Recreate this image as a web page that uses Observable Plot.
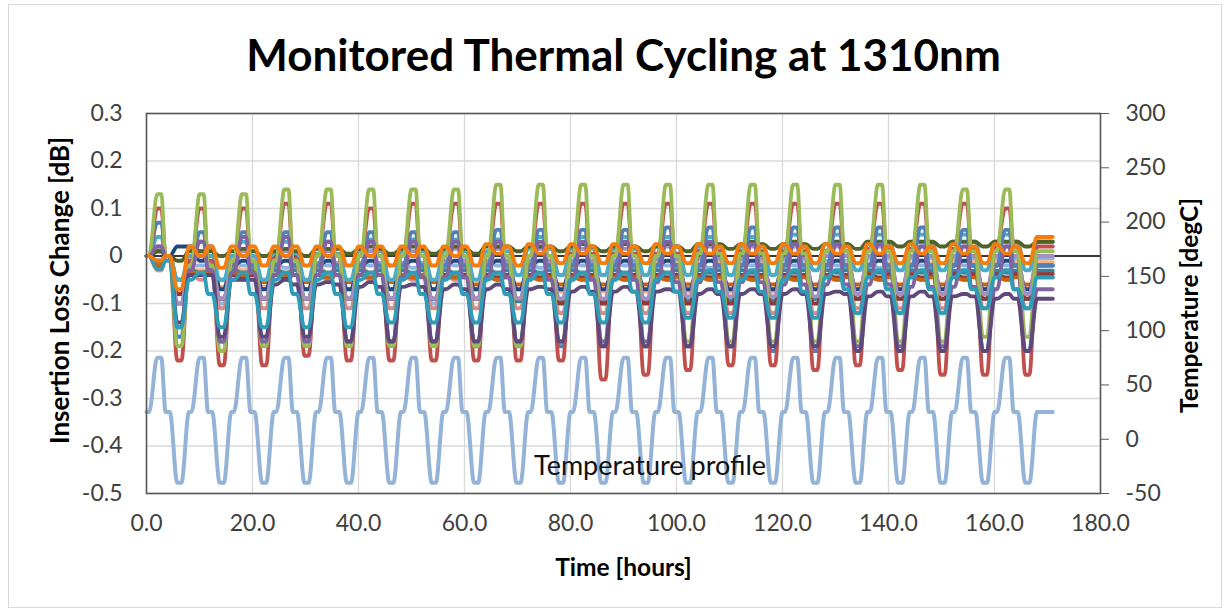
<!DOCTYPE html>
<html><head><meta charset="utf-8">
<script src="https://cdn.jsdelivr.net/npm/d3@7"></script>
<script src="https://cdn.jsdelivr.net/npm/@observablehq/plot@0.6"></script>
<style>
html,body{margin:0;padding:0;background:#fff;}
#wrap{position:relative;width:1231px;height:612px;overflow:hidden;}
#border{position:absolute;left:8px;top:4px;width:1214px;height:604px;border:1.5px solid #D9D9D9;box-sizing:border-box;pointer-events:none;}
</style></head>
<body><div id="wrap"><div id="chart"></div><div id="border"></div></div>
<script>
// ---- axes / ticks ----
const xTicks = [0,20,40,60,80,100,120,140,160,180];
const yTicks = [-0.5,-0.4,-0.3,-0.2,-0.1,0,0.1,0.2,0.3];
const yTickLabels = ["-0.5","-0.4","-0.3","-0.2","-0.1","0","0.1","0.2","0.3"];
const tempTicks = [-50,0,50,100,150,200,250,300];
const tempDomain = [-50,300];

// ---- temperature profile (hours, degC) ----
const cycleStarts = [0,8,16,24,32,40,48,56,64,72,80,88,96,104,112,120,128,136,144,152,160];
const phaseOffsets = [0,0.5,2.0,2.8,3.6,4.4,5.8,6.6];
const phaseTemps = [25,25,75,75,25,25,-40,-40];
const finalTimes = [168,171];
const finalTemps = [25,25];

// ---- insertion loss change series (dB): ambient level a1 (start of each cycle + end), hot hold, ambient mid a2, cold hold ----
const lightBlue = {color:"#8EB4E3",
 a1:[0,-0.02,-0.015,-0.015,-0.015,-0.015,-0.015,-0.01,-0.01,-0.01,-0.01,-0.01,-0.01,-0.01,-0.01,-0.01,-0.01,-0.005,-0.005,-0.005,-0.005,-0.005],
 hot:[-0.01,-0.02,-0.02,-0.025,-0.02,-0.02,-0.025,-0.02,-0.02,-0.025,-0.02,-0.02,-0.02,-0.025,-0.02,-0.02,-0.02,-0.025,-0.02,-0.02,-0.02],
 cold:[-0.1,-0.1,-0.09,-0.09,-0.09,-0.09,-0.1,-0.09,-0.09,-0.09,-0.1,-0.09,-0.09,-0.09,-0.09,-0.09,-0.09,-0.08,-0.08,-0.08,-0.08]};
const lightOrange = {color:"#F9B07A",
 a1:[0,-0.03,-0.02,-0.02,-0.02,-0.02,-0.02,-0.02,-0.02,-0.02,-0.02,-0.02,-0.015,-0.015,-0.015,-0.015,-0.015,-0.015,-0.015,-0.013,-0.013,-0.013],
 hot:[-0.03,-0.03,-0.03,-0.035,-0.035,-0.035,-0.04,-0.04,-0.04,-0.04,-0.04,-0.04,-0.04,-0.04,-0.04,-0.04,-0.035,-0.035,-0.035,-0.035,-0.035],
 cold:[-0.05,-0.065,-0.065,-0.07,-0.07,-0.07,-0.07,-0.07,-0.07,-0.075,-0.075,-0.075,-0.075,-0.075,-0.075,-0.07,-0.07,-0.07,-0.07,-0.07,-0.07]};
const salmon = {color:"#DA8A87",
 a1:[0,-0.035,-0.04,-0.04,-0.04,-0.04,-0.04,-0.04,-0.04,-0.04,-0.04,-0.04,-0.04,-0.04,-0.04,-0.04,-0.04,-0.035,-0.035,-0.035,-0.035,-0.035],
 hot:[-0.03,-0.05,-0.05,-0.05,-0.05,-0.05,-0.05,-0.05,-0.05,-0.05,-0.05,-0.05,-0.05,-0.05,-0.05,-0.05,-0.05,-0.05,-0.05,-0.05,-0.05],
 cold:[-0.1,-0.11,-0.11,-0.11,-0.11,-0.11,-0.11,-0.11,-0.11,-0.12,-0.12,-0.12,-0.12,-0.12,-0.12,-0.12,-0.11,-0.11,-0.11,-0.11,-0.11]};
const darkTeal = {color:"#31859C",
 a1:[0,-0.03,-0.03,-0.03,-0.03,-0.03,-0.03,-0.03,-0.03,-0.03,-0.03,-0.03,-0.03,-0.03,-0.03,-0.03,-0.03,-0.03,-0.03,-0.031,-0.031,-0.031],
 hot:[-0.02,-0.035,-0.035,-0.035,-0.035,-0.035,-0.035,-0.035,-0.035,-0.035,-0.035,-0.035,-0.035,-0.035,-0.035,-0.035,-0.035,-0.035,-0.035,-0.035,-0.035],
 cold:[-0.08,-0.09,-0.09,-0.09,-0.09,-0.09,-0.09,-0.09,-0.095,-0.095,-0.095,-0.095,-0.095,-0.095,-0.095,-0.09,-0.09,-0.09,-0.09,-0.09,-0.09]};
const darkRed = {color:"#953735",
 a1:[0,-0.035,-0.04,-0.04,-0.04,-0.04,-0.04,-0.04,-0.04,-0.04,-0.04,-0.04,-0.04,-0.04,-0.04,-0.04,-0.04,-0.038,-0.038,-0.038,-0.038,-0.038],
 hot:[-0.02,-0.04,-0.045,-0.045,-0.045,-0.045,-0.045,-0.045,-0.045,-0.045,-0.045,-0.045,-0.045,-0.045,-0.045,-0.045,-0.045,-0.045,-0.045,-0.045,-0.045],
 cold:[-0.08,-0.09,-0.09,-0.09,-0.09,-0.09,-0.09,-0.09,-0.09,-0.1,-0.1,-0.1,-0.1,-0.1,-0.1,-0.1,-0.09,-0.09,-0.09,-0.09,-0.09]};
const darkOrange = {color:"#C96510",
 a1:[0,-0.035,-0.035,-0.04,-0.04,-0.04,-0.04,-0.045,-0.045,-0.045,-0.045,-0.045,-0.045,-0.045,-0.045,-0.045,-0.045,-0.045,-0.045,-0.045,-0.045,-0.045],
 hot:[-0.02,-0.035,-0.04,-0.04,-0.045,-0.045,-0.045,-0.045,-0.05,-0.05,-0.05,-0.05,-0.05,-0.05,-0.05,-0.05,-0.05,-0.05,-0.05,-0.05,-0.05],
 cold:[-0.05,-0.05,-0.055,-0.055,-0.055,-0.055,-0.055,-0.06,-0.06,-0.06,-0.06,-0.06,-0.06,-0.06,-0.06,-0.06,-0.06,-0.06,-0.06,-0.06,-0.06]};
const darkBlue = {color:"#1F497D",
 a1:[0,0.02,-0.02,-0.02,-0.02,-0.02,-0.02,-0.02,-0.02,-0.02,-0.02,-0.02,-0.02,-0.02,-0.02,-0.02,-0.02,-0.02,-0.02,-0.02,-0.02,-0.02],
 hot:[0.01,-0.01,-0.01,-0.01,-0.01,-0.01,-0.01,-0.01,-0.01,-0.01,-0.01,-0.01,-0.01,-0.01,-0.01,-0.01,-0.01,-0.01,-0.01,-0.01,-0.01],
 cold:[0.02,-0.07,-0.07,-0.07,-0.07,-0.07,-0.07,-0.07,-0.07,-0.07,-0.07,-0.07,-0.07,-0.07,-0.07,-0.07,-0.07,-0.07,-0.07,-0.07,-0.07]};
const lightPurple = {color:"#A48FC0",
 a1:[0,-0.02,-0.02,-0.02,-0.015,-0.015,-0.015,-0.01,-0.01,-0.01,-0.01,-0.01,-0.005,-0.005,-0.005,-0.005,0,0,0,0,0,0],
 hot:[0.02,0.01,0.01,0.01,0.01,0.01,0.01,0.015,0.015,0.015,0.015,0.015,0.02,0.02,0.02,0.02,0.02,0.02,0.02,0.02,0.02],
 cold:[-0.1,-0.09,-0.09,-0.09,-0.09,-0.09,-0.09,-0.09,-0.09,-0.09,-0.09,-0.09,-0.085,-0.085,-0.085,-0.085,-0.08,-0.08,-0.08,-0.08,-0.08]};
const lightAqua = {color:"#4BACC6",
 a1:[0,0,0,0.005,0.005,0.01,0.01,0.01,0.01,0.015,0.015,0.015,0.02,0.02,0.02,0.02,0.025,0.025,0.025,0.03,0.03,0.03],
 hot:[0.04,0.03,0.03,0.03,0.03,0.035,0.035,0.035,0.035,0.04,0.04,0.04,0.04,0.04,0.04,0.045,0.045,0.045,0.045,0.045,0.045],
 cold:[-0.05,-0.05,-0.05,-0.05,-0.05,-0.05,-0.05,-0.05,-0.04,-0.04,-0.04,-0.04,-0.04,-0.04,-0.04,-0.03,-0.03,-0.03,-0.03,-0.03,-0.03]};
const darkGreen = {color:"#4F6228",
 a1:[0,0.01,0.01,0.01,0.015,0.015,0.015,0.015,0.02,0.02,0.02,0.02,0.02,0.025,0.025,0.025,0.025,0.03,0.03,0.03,0.03,0.03],
 hot:[0.01,0.01,0.015,0.015,0.015,0.02,0.02,0.02,0.02,0.02,0.025,0.025,0.025,0.025,0.03,0.03,0.03,0.03,0.03,0.03,0.03],
 cold:[-0.01,0,0,0,0.005,0.005,0.005,0.005,0.01,0.01,0.01,0.01,0.01,0.015,0.015,0.015,0.015,0.02,0.02,0.02,0.02]};
const blue = {color:"#4F81BD",
 a1:[0,-0.02,-0.02,-0.02,-0.02,-0.02,-0.02,-0.02,-0.02,-0.02,-0.02,-0.02,-0.02,-0.02,-0.02,-0.02,-0.02,-0.02,-0.02,-0.02,-0.02,-0.02],
 hot:[0.07,0.05,0.05,0.05,0.05,0.05,0.05,0.05,0.055,0.055,0.055,0.055,0.06,0.06,0.06,0.06,0.06,0.06,0.06,0.055,0.055],
 cold:[-0.17,-0.18,-0.18,-0.18,-0.18,-0.18,-0.18,-0.19,-0.19,-0.19,-0.19,-0.19,-0.19,-0.19,-0.2,-0.2,-0.2,-0.2,-0.2,-0.2,-0.2]};
const red = {color:"#C0504D",
 a1:[0,-0.01,-0.01,-0.005,0,0,0,0,0,0,0.005,0.005,0.005,0.01,0.01,0.01,0.01,0.015,0.015,0.015,0.02,0.02],
 hot:[0.10,0.10,0.10,0.11,0.11,0.10,0.11,0.11,0.11,0.11,0.11,0.11,0.11,0.11,0.11,0.11,0.11,0.11,0.11,0.11,0.10],
 cold:[-0.22,-0.23,-0.23,-0.21,-0.22,-0.22,-0.22,-0.22,-0.22,-0.22,-0.26,-0.25,-0.24,-0.23,-0.23,-0.24,-0.23,-0.24,-0.25,-0.25,-0.25]};
const green = {color:"#9BBB59",
 a1:[0,-0.02,-0.01,-0.01,0,0,0,0,0,0,0,0,0,0.005,0.005,0.005,0.01,0.01,0.01,0.01,0.01,0.01],
 hot:[0.13,0.13,0.13,0.14,0.14,0.14,0.14,0.14,0.15,0.15,0.15,0.15,0.15,0.15,0.15,0.15,0.15,0.15,0.15,0.14,0.14],
 cold:[-0.19,-0.2,-0.19,-0.19,-0.19,-0.19,-0.19,-0.19,-0.19,-0.18,-0.18,-0.19,-0.18,-0.18,-0.18,-0.18,-0.18,-0.18,-0.18,-0.17,-0.17]};
const purple = {color:"#8064A2",
 a1:[0,-0.03,-0.035,-0.04,-0.04,-0.04,-0.045,-0.045,-0.045,-0.05,-0.05,-0.05,-0.055,-0.055,-0.055,-0.06,-0.06,-0.06,-0.065,-0.065,-0.07,-0.07],
 hot:[0.02,0.03,0.04,0.04,0.03,0.03,0.03,0.03,0.03,0.03,0.03,0.03,0.03,0.03,0.025,0.025,0.025,0.025,0.02,0.02,0.02],
 cold:[-0.15,-0.18,-0.18,-0.18,-0.18,-0.18,-0.18,-0.18,-0.18,-0.18,-0.18,-0.18,-0.19,-0.19,-0.19,-0.19,-0.19,-0.19,-0.19,-0.2,-0.2]};
const darkPurple = {color:"#5F497A",
 a1:[0,-0.04,-0.05,-0.06,-0.06,-0.065,-0.065,-0.07,-0.07,-0.07,-0.075,-0.075,-0.075,-0.08,-0.08,-0.08,-0.08,-0.085,-0.085,-0.085,-0.09,-0.09],
 hot:[-0.01,-0.04,-0.05,-0.05,-0.055,-0.055,-0.06,-0.06,-0.06,-0.065,-0.065,-0.065,-0.07,-0.07,-0.07,-0.07,-0.075,-0.075,-0.075,-0.08,-0.08],
 cold:[-0.14,-0.17,-0.17,-0.17,-0.18,-0.18,-0.18,-0.18,-0.18,-0.18,-0.19,-0.19,-0.19,-0.19,-0.19,-0.19,-0.2,-0.2,-0.2,-0.2,-0.2]};
const teal = {color:"#2F9DB7",
 a1:[0,-0.05,-0.05,-0.05,-0.05,-0.05,-0.05,-0.05,-0.05,-0.05,-0.05,-0.05,-0.05,-0.05,-0.05,-0.05,-0.045,-0.045,-0.045,-0.045,-0.045,-0.045],
 hot:[-0.027,-0.035,-0.035,-0.035,-0.035,-0.035,-0.035,-0.035,-0.035,-0.035,-0.035,-0.035,-0.035,-0.03,-0.03,-0.03,-0.03,-0.03,-0.03,-0.03,-0.03],
 a2:[-0.01,-0.08,-0.08,-0.08,-0.08,-0.08,-0.08,-0.08,-0.08,-0.08,-0.08,-0.075,-0.075,-0.075,-0.075,-0.075,-0.07,-0.07,-0.07,-0.07,-0.07],
 cold:[-0.15,-0.15,-0.15,-0.15,-0.15,-0.14,-0.14,-0.14,-0.14,-0.14,-0.14,-0.14,-0.13,-0.13,-0.13,-0.13,-0.12,-0.12,-0.12,-0.11,-0.11]};
const orange = {color:"#F47D0E",
 a1:[0,0.02,0.02,0.02,0.02,0.02,0.02,0.02,0.025,0.025,0.025,0.025,0.025,0.025,0.025,0.025,0.025,0.025,0.025,0.025,0.025,0.04],
 hot:[-0.01,0.0,0.0,0.0,0.0,0.0,0.0,0.0,0.005,0.005,0.005,0.005,0.005,0.005,0.005,0.005,0.005,0.005,0.005,0.005,0.005],
 a2:[0.0,0.02,0.02,0.02,0.02,0.02,0.02,0.02,0.02,0.02,0.02,0.02,0.02,0.02,0.02,0.02,0.02,0.02,0.02,0.02,0.02],
 cold:[-0.07,-0.025,-0.02,-0.02,-0.02,-0.02,-0.02,-0.02,-0.02,-0.015,-0.015,-0.015,-0.015,-0.015,-0.015,-0.015,-0.015,-0.015,-0.015,-0.015,-0.015]};

const lossSeries = [lightBlue, lightOrange, salmon, darkTeal, darkRed, darkOrange, darkBlue, lightPurple,
  lightAqua, darkGreen, blue, red, green, purple, darkPurple, teal, orange];

const annotation = [{t:95, temp:-25, label:"Temperature profile"}];

// ---- build tables ----
const toLeft = T => -0.5 + (T - tempDomain[0]) * 0.8 / (tempDomain[1] - tempDomain[0]);
const fromLeft = v => tempDomain[0] + (v + 0.5) * (tempDomain[1] - tempDomain[0]) / 0.8;

const tempRows = [];
cycleStarts.forEach(c => phaseOffsets.forEach((o, i) => tempRows.push({t: c + o, temp: phaseTemps[i]})));
finalTimes.forEach((t, i) => tempRows.push({t, temp: finalTemps[i]}));

function lossRows(s) {
  const rows = [];
  const a2 = s.a2 || s.a1;
  cycleStarts.forEach((c, k) => {
    const lv = [s.a1[k], s.a1[k], s.hot[k], s.hot[k], a2[k], a2[k], s.cold[k], s.cold[k]];
    phaseOffsets.forEach((o, i) => rows.push({t: c + o, v: lv[i]}));
  });
  finalTimes.forEach(t => rows.push({t, v: s.a1[cycleStarts.length]}));
  return rows;
}

const gridStyle = {stroke: "#D9D9D9", strokeOpacity: 1, strokeWidth: 1.3};

const chart = Plot.plot({
  width: 1231, height: 612,
  marginLeft: 146, marginRight: 131, marginTop: 113, marginBottom: 119,
  x: {domain: [0, 180]},
  y: {domain: [-0.5, 0.3]},
  style: {fontFamily: "Lato, 'Open Sans', sans-serif", fontSize: "23px", color: "#404040", background: "white", overflow: "visible"},
  marks: [
    Plot.gridY(yTicks, gridStyle),
    Plot.gridX(xTicks, gridStyle),
    Plot.ruleY([0], {stroke: "#000", strokeWidth: 1.4}),
    Plot.line(tempRows, {x: "t", y: d => toLeft(d.temp), stroke: "#95B3D7", strokeWidth: 4, curve: "monotone-x"}),
    ...lossSeries.map(s => Plot.line(lossRows(s), {x: "t", y: "v", stroke: s.color, strokeWidth: 3.8, strokeLinejoin: "round", curve: "monotone-x"})),
    Plot.frame({stroke: "#595959", strokeWidth: 1.6}),
    Plot.axisY(yTicks, {anchor: "left", tickSize: 0, tickPadding: 24, label: null,
      tickFormat: d => yTickLabels[yTicks.findIndex(v => Math.abs(v - d) < 1e-9)]}),
    Plot.axisY(tempTicks.map(toLeft), {anchor: "right", tickSize: 8, tickPadding: 17, label: null, stroke: "#595959",
      tickFormat: d => String(Math.round(fromLeft(d)))}),
    Plot.axisX(xTicks, {anchor: "bottom", tickSize: 0, tickPadding: 21, label: null, tickFormat: d => d.toFixed(1)}),
    Plot.text(annotation, {x: "t", y: d => toLeft(d.temp), text: "label", fontSize: 27, fill: "#111"}),
    Plot.text(["Monitored Thermal Cycling at 1310nm"], {frameAnchor: "top", dy: -57, fontSize: 44, fontWeight: "bold", fill: "#000", lineAnchor: "middle"}),
    Plot.text(["Insertion Loss Change [dB]"], {frameAnchor: "left", dx: -86, dy: -13, rotate: -90, textAnchor: "middle", fontSize: 26, fontWeight: "bold", fill: "#000"}),
    Plot.text(["Temperature [degC]"], {frameAnchor: "right", dx: 90, dy: 2, rotate: -90, textAnchor: "middle", fontSize: 24.5, fontWeight: "bold", fill: "#000"}),
    Plot.text(["Time [hours]"], {frameAnchor: "bottom", dy: 82, fontSize: 24.5, fontWeight: "bold", fill: "#000"})
  ]
});
document.getElementById("chart").appendChild(chart);
</script>
</body></html>
